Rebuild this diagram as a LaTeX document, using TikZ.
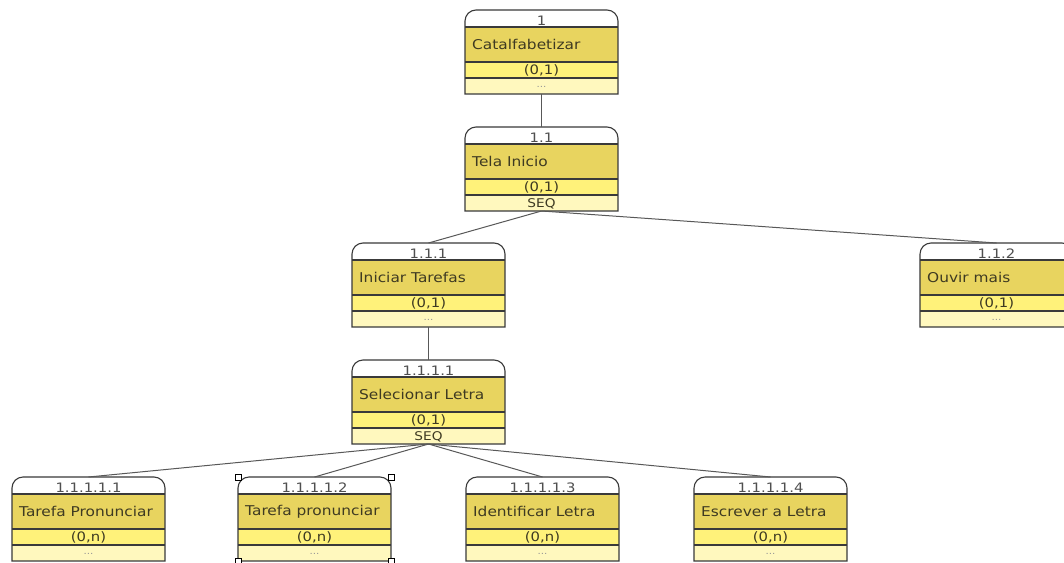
\documentclass[tikz,border=0pt]{standalone}
\usepackage{fontspec}
\setmainfont{DejaVu Sans}
\newfontfamily\boxfont[FakeStretch=1.14]{DejaVu Sans}
\definecolor{hdr}{HTML}{FFFFFF}
\definecolor{dark}{HTML}{E8D45F}
\definecolor{mid}{HTML}{FFF27A}
\definecolor{light}{HTML}{FFF8BE}
\definecolor{edge}{HTML}{3A3A3A}
\definecolor{txt}{HTML}{3E3A22}
\definecolor{numtxt}{HTML}{4F4F4F}
\tikzset{
  boxline/.style={draw=edge, line width=1.1pt},
  conn/.style={draw=edge!85, line width=1pt},
  numlbl/.style={font=\boxfont\fontsize{13}{12}\selectfont, text=numtxt, inner sep=0pt, anchor=base},
  titlelbl/.style={font=\boxfont\fontsize{13.5}{12}\selectfont, text=txt, inner sep=0pt, anchor=west},
  cardlbl/.style={font=\boxfont\fontsize{13}{12}\selectfont, text=txt, inner sep=0pt},
  seqlbl/.style={font=\boxfont\fontsize{12}{12}\selectfont, text=txt, inner sep=0pt},
  footlbl/.style={font=\boxfont\fontsize{9}{9}\selectfont, text=numtxt!60, inner sep=0pt},
  handle/.style={draw=black, fill=white, line width=0.7pt, minimum size=6pt, inner sep=0pt},
  boxnode/.style={anchor=north west, minimum width=153pt, minimum height=84pt, inner sep=0pt, outer sep=0pt}
}
% #1 name, #2 x, #3 ytop, #4 number, #5 title, #6 card, #7 footer style, #8 footer
\newcommand\cbox[8]{%
  \node[boxnode] (#1) at (#2,#3) {};
  \fill[hdr, rounded corners=11pt] ({#2},{#3+17}) -- ({#2},{#3}) -- ({#2+153},{#3}) -- ({#2+153},{#3+17});
  \fill[dark] ({#2},{#3+17}) rectangle ({#2+153},{#3+52});
  \fill[mid] ({#2},{#3+52}) rectangle ({#2+153},{#3+68});
  \fill[light] ({#2},{#3+68}) rectangle ({#2+153},{#3+84});
  \draw[boxline] ({#2},{#3+84}) [rounded corners=11pt] -- ({#2},{#3}) -- ({#2+153},{#3}) [sharp corners] -- ({#2+153},{#3+84}) -- cycle;
  \draw[boxline] ({#2},{#3+17}) -- ({#2+153},{#3+17});
  \draw[boxline] ({#2},{#3+52}) -- ({#2+153},{#3+52});
  \draw[boxline] ({#2},{#3+68}) -- ({#2+153},{#3+68});
  \node[numlbl] (#1-num) at ({#2+76.5},{#3+15}) {#4};
  \node[titlelbl] (#1-title) at ({#2+7},{#3+34.5}) {#5};
  \node[cardlbl] (#1-card) at ({#2+76.5},{#3+60}) {#6};
  \node[#7] (#1-foot) at ({#2+76.5},{#3+77}) {#8};
}
\begin{document}
\begin{tikzpicture}[x=1pt,y=-1pt]
\useasboundingbox (0,0) rectangle (1064,562);
\clip (0,0) rectangle (1064,562);
\fill[white] (0,0) rectangle (1064,562);
\cbox{b1}{465}{10}{1}{Catalfabetizar}{(0,1)}{footlbl}{...}
\cbox{b11}{465}{127}{1.1}{Tela Inicio}{(0,1)}{seqlbl}{SEQ}
\cbox{b111}{352}{243}{1.1.1}{Iniciar Tarefas}{(0,1)}{footlbl}{...}
\cbox{b112}{920}{243}{1.1.2}{Ouvir mais}{(0,1)}{footlbl}{...}
\cbox{b1111}{352}{360}{1.1.1.1}{Selecionar Letra}{(0,1)}{seqlbl}{SEQ}
\cbox{b11111}{12}{477}{1.1.1.1.1}{Tarefa Pronunciar}{(0,n)}{footlbl}{...}
\cbox{b11112}{238}{477}{1.1.1.1.2}{Tarefa pronunciar}{(0,n)}{footlbl}{...}
\cbox{b11113}{466}{477}{1.1.1.1.3}{Identificar Letra}{(0,n)}{footlbl}{...}
\cbox{b11114}{694}{477}{1.1.1.1.4}{Escrever a Letra}{(0,n)}{footlbl}{...}
\draw[conn] (b1.south) -- (b11.north);
\draw[conn] (b11.south) -- (b111.north);
\draw[conn] (b11.south) -- (b112.north);
\draw[conn] (b111.south) -- (b1111.north);
\draw[conn] (b1111.south) -- (b11111.north);
\draw[conn] (b1111.south) -- (b11112.north);
\draw[conn] (b1111.south) -- (b11113.north);
\draw[conn] (b1111.south) -- (b11114.north);
% selection handles
\node[handle] (h1) at (b11112.north west) {};
\node[handle] (h2) at (b11112.north east) {};
\node[handle] (h3) at (b11112.south west) {};
\node[handle] (h4) at (b11112.south east) {};
\end{tikzpicture}
\end{document}
